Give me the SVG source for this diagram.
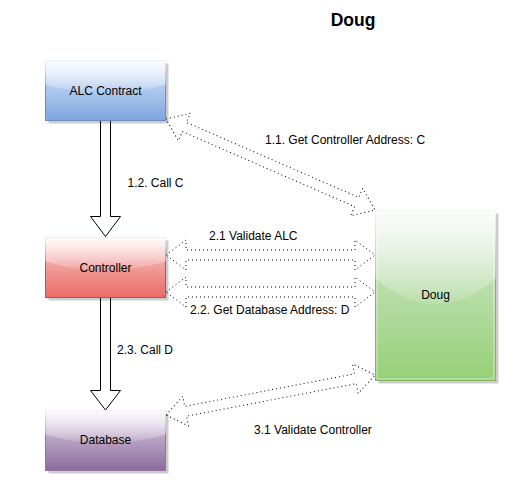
<svg xmlns="http://www.w3.org/2000/svg" width="528" height="501" viewBox="0 0 528 501">
<style>
  .lbl { font-family: "Liberation Sans", Arial, sans-serif; font-size: 12px; fill: #000; }
  .node-text { text-anchor: middle; }
  .title { font-family: "Liberation Sans", Arial, sans-serif; font-size: 17.5px; font-weight: bold; fill: #000; text-anchor: middle; }
  .shadow { fill: #000; fill-opacity: 0.2; }
  .block { fill: #fff; stroke: #000; stroke-width: 1; }
  .dotted { fill: none; stroke: #000; stroke-width: 1; stroke-dasharray: 1 3; }
</style>
<defs>
  <linearGradient id="gBlue" x1="0" y1="0" x2="0" y2="1">
    <stop offset="0" stop-color="#dae8fc"/><stop offset="1" stop-color="#7ea6e0"/>
  </linearGradient>
  <linearGradient id="gRed" x1="0" y1="0" x2="0" y2="1">
    <stop offset="0" stop-color="#f8cecc"/><stop offset="1" stop-color="#ea6b66"/>
  </linearGradient>
  <linearGradient id="gPurple" x1="0" y1="0" x2="0" y2="1">
    <stop offset="0" stop-color="#e1d5e7"/><stop offset="1" stop-color="#8c6c9c"/>
  </linearGradient>
  <linearGradient id="gGreen" x1="0" y1="0" x2="0" y2="1">
    <stop offset="0" stop-color="#d5e8d4"/><stop offset="1" stop-color="#97d077"/>
  </linearGradient>
  <linearGradient id="gGlass" x1="0" y1="0" x2="0" y2="1">
    <stop offset="0" stop-color="#fff" stop-opacity="0.9"/><stop offset="1" stop-color="#fff" stop-opacity="0.1"/>
  </linearGradient>
</defs>

<text class="title" x="353" y="26">Doug</text>

<g id="connectors">
  <!-- 1.2 Call C: ALC -> Controller -->
  <path class="block" d="M100.5,120.5 L110.5,120.5 L110.5,216.5 L120.5,216.5 L105.5,236.5 L90.5,216.5 L100.5,216.5 Z"/>
  <!-- 2.3 Call D: Controller -> Database -->
  <path class="block" d="M100.5,297.5 L110.5,297.5 L110.5,390.5 L120.5,390.5 L105.5,410 L90.5,390.5 L100.5,390.5 Z"/>
  <!-- 1.1 ALC <-> Doug -->
  <path class="dotted" transform="translate(166,119) rotate(23.53)" d="M0,0 L20,-15 L20,-5 L208,-5 L208,-15 L228,0 L208,15 L208,5 L20,5 L20,15 Z"/>
  <!-- 2.1 Controller <-> Doug -->
  <path class="dotted" transform="translate(166,255)" d="M0,0 L20,-15 L20,-5 L189,-5 L189,-15 L209,0 L189,15 L189,5 L20,5 L20,15 Z"/>
  <!-- 2.2 Controller <-> Doug -->
  <path class="dotted" transform="translate(166,292)" d="M0,0 L20,-15 L20,-5 L189,-5 L189,-15 L209,0 L189,15 L189,5 L20,5 L20,15 Z"/>
  <!-- 3.1 Database <-> Doug -->
  <path class="dotted" transform="translate(166,415) rotate(-10.83)" d="M0,0 L20,-15 L20,-5 L192.8,-5 L192.8,-15 L212.8,0 L192.8,15 L192.8,5 L20,5 L20,15 Z"/>
  <text class="lbl" x="127.5" y="187">1.2. Call C</text>
  <text class="lbl" x="265" y="143.5">1.1. Get Controller Address: C</text>
  <text class="lbl" x="209" y="239.5">2.1 Validate ALC</text>
  <text class="lbl" x="190" y="313.5">2.2. Get Database Address: D</text>
  <text class="lbl" x="117" y="353.5">2.3. Call D</text>
  <text class="lbl" x="254" y="433.5">3.1 Validate Controller</text>
</g>

<g id="alc">
  <rect class="shadow" x="48.5" y="63.5" width="120" height="60"/>
  <rect x="45.5" y="60.5" width="120" height="60" fill="url(#gBlue)" stroke="#6c8ebf"/>
  <path d="M45,60 L45,84.5 Q105.5,102.5 166,84.5 L166,60 Z" fill="url(#gGlass)"/>
  <text class="lbl node-text" x="105.5" y="94.5">ALC Contract</text>
</g>

<g id="controller">
  <rect class="shadow" x="48.5" y="240.5" width="120" height="60"/>
  <rect x="45.5" y="237.5" width="120" height="60" fill="url(#gRed)" stroke="#b85450"/>
  <path d="M45,237 L45,261.5 Q105.5,279.5 166,261.5 L166,237 Z" fill="url(#gGlass)"/>
  <text class="lbl node-text" x="105.5" y="271.5">Controller</text>
</g>

<g id="database">
  <rect class="shadow" x="48.5" y="413.5" width="120" height="60"/>
  <rect x="45.5" y="410.5" width="120" height="60" fill="url(#gPurple)" stroke="#9673a6"/>
  <path d="M45,410 L45,434.5 Q105.5,452.5 166,434.5 L166,410 Z" fill="url(#gGlass)"/>
  <text class="lbl node-text" x="105.5" y="444">Database</text>
</g>

<g id="doug">
  <rect class="shadow" x="378.5" y="213.5" width="120" height="170"/>
  <rect x="375.5" y="210.5" width="120" height="170" fill="url(#gGreen)" stroke="#82b366"/>
  <path d="M375,210 L375,278.5 Q435.5,329.5 496,278.5 L496,210 Z" fill="url(#gGlass)"/>
  <rect x="377" y="212" width="117" height="167" fill="none" stroke="#fff" stroke-opacity="0.5"/>
  <text class="lbl node-text" x="435.5" y="298.5">Doug</text>
</g>
</svg>
